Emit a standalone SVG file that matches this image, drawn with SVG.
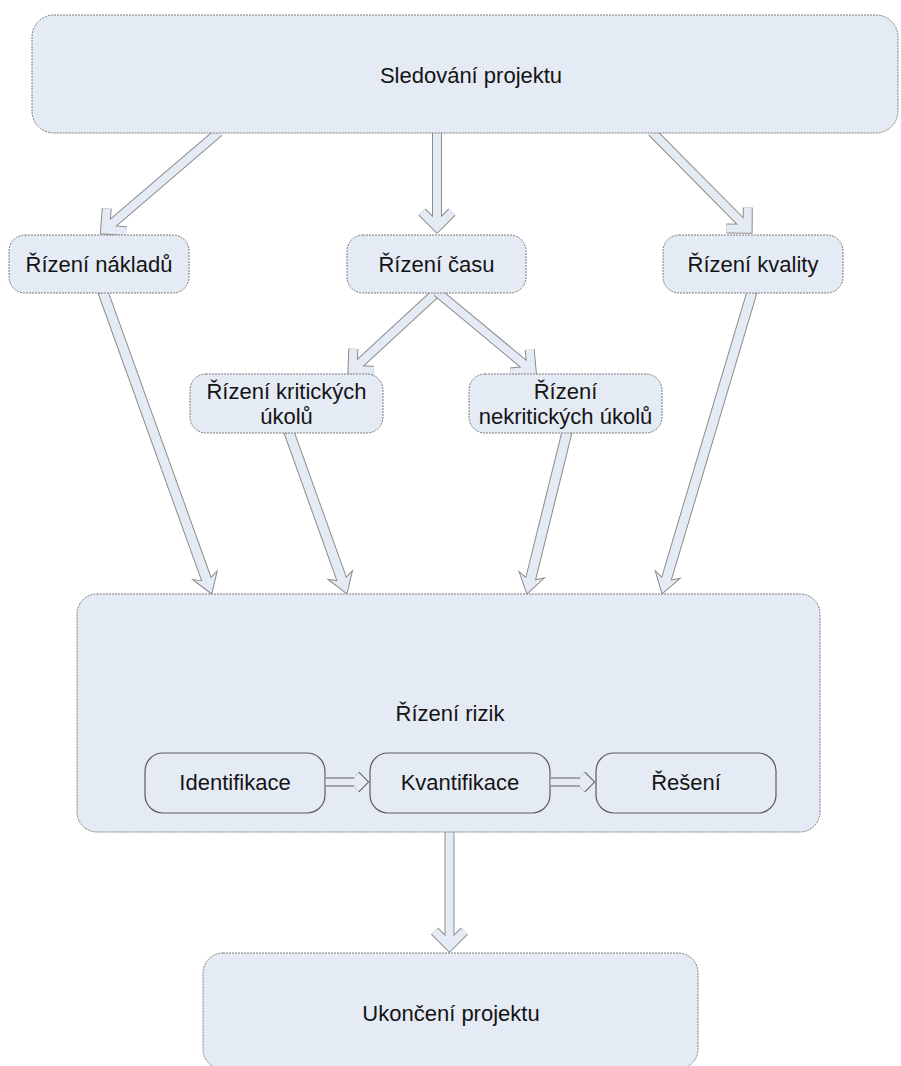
<svg xmlns="http://www.w3.org/2000/svg" width="901" height="1066" viewBox="0 0 901 1066">
  <style>
    .node { fill:#e5ebf5; stroke:#7d7d7d; stroke-width:1; stroke-dasharray:2 1; }
    .step { fill:#e5ebf5; stroke:#5c5c5c; stroke-width:1.2; }
    .lbl { font-family:"Liberation Sans", Arial, sans-serif; font-size:22px; fill:#141414; text-anchor:middle; }
    .ao { fill:none; stroke:#8c8c8c; stroke-width:10; stroke-linejoin:miter; }
    .ai { fill:none; stroke:#e5ebf5; stroke-width:8; stroke-linejoin:miter; }
    .so { fill:none; stroke:#5c5c5c; stroke-width:9; stroke-linejoin:miter; }
    .si { fill:none; stroke:#e5ebf5; stroke-width:7; stroke-linejoin:miter; }
    .blk { fill:#e5ebf5; stroke:#8c8c8c; stroke-width:1; stroke-linejoin:miter; }
  </style>
  <rect width="901" height="1066" fill="#ffffff"/>

  <g id="connectors">
    <!-- open-head block arrows -->
    <g transform="translate(219,132) rotate(139.4)">
      <path class="ao" d="M0,0H150M135,-15L150,0L135,15"/>
      <path class="ai" d="M0,0H150M135,-15L150,0L135,15"/>
    </g>
    <g transform="translate(437,132) rotate(90)">
      <path class="ao" d="M0,0H95M80,-15L95,0L80,15"/>
      <path class="ai" d="M0,0H95M80,-15L95,0L80,15"/>
    </g>
    <g transform="translate(652,132) rotate(45.3)">
      <path class="ao" d="M0,0H136M121,-15L136,0L121,15"/>
      <path class="ai" d="M0,0H136M121,-15L136,0L121,15"/>
    </g>
    <g transform="translate(437,292) rotate(137.3)">
      <path class="ao" d="M0,0H115M100,-15L115,0L100,15"/>
      <path class="ai" d="M0,0H115M100,-15L115,0L100,15"/>
    </g>
    <g transform="translate(437,292) rotate(39.7)">
      <path class="ao" d="M0,0H123M108,-15L123,0L108,15"/>
      <path class="ai" d="M0,0H123M108,-15L123,0L108,15"/>
    </g>
    <g transform="translate(449.5,831) rotate(90)">
      <path class="ao" d="M0,0H115M100,-15L115,0L100,15"/>
      <path class="ai" d="M0,0H115M100,-15L115,0L100,15"/>
    </g>

    <!-- solid-head block arrows into risk management -->
    <polygon class="blk" transform="translate(103,292) rotate(70.2)" points="0,-5 305,-5 301,-13 321,0 301,13 305,5 0,5"/>
    <polygon class="blk" transform="translate(289,432) rotate(70.3)" points="0,-5 156,-5 152,-13 172,0 152,13 156,5 0,5"/>
    <polygon class="blk" transform="translate(567,432) rotate(103.9)" points="0,-5 151,-5 147,-13 167,0 147,13 151,5 0,5"/>
    <polygon class="blk" transform="translate(752,292) rotate(106.6)" points="0,-5 299,-5 295,-13 315,0 295,13 299,5 0,5"/>
  </g>

  <g id="n-sledovani">
    <rect class="node" x="32" y="15" width="866" height="118" rx="22"/>
    <text class="lbl" x="471" y="83">Sledování projektu</text>
  </g>
  <g id="n-naklady">
    <rect class="node" x="9" y="235" width="180" height="58" rx="16"/>
    <text class="lbl" x="99" y="272">Řízení nákladů</text>
  </g>
  <g id="n-cas">
    <rect class="node" x="347" y="235" width="179" height="58" rx="16"/>
    <text class="lbl" x="436.5" y="272">Řízení času</text>
  </g>
  <g id="n-kvalita">
    <rect class="node" x="663" y="235" width="180" height="58" rx="16"/>
    <text class="lbl" x="753" y="272">Řízení kvality</text>
  </g>
  <g id="n-kriticke">
    <rect class="node" x="190" y="374" width="193" height="59" rx="16"/>
    <text class="lbl" x="286.5" y="399">Řízení kritických</text>
    <text class="lbl" x="286.5" y="424">úkolů</text>
  </g>
  <g id="n-nekriticke">
    <rect class="node" x="469" y="374" width="193" height="59" rx="16"/>
    <text class="lbl" x="565.5" y="399">Řízení</text>
    <text class="lbl" x="565.5" y="424">nekritických úkolů</text>
  </g>
  <g id="n-rizika">
    <rect class="node" x="77" y="594" width="743" height="238" rx="20"/>
    <text class="lbl" x="450" y="721">Řízení rizik</text>
  </g>
  <g id="n-identifikace">
    <rect class="step" x="145" y="753" width="180" height="60" rx="18"/>
    <text class="lbl" x="235" y="790">Identifikace</text>
  </g>
  <g id="n-kvantifikace">
    <rect class="step" x="370" y="753" width="180" height="60" rx="18"/>
    <text class="lbl" x="460" y="790">Kvantifikace</text>
  </g>
  <g id="n-reseni">
    <rect class="step" x="596" y="753" width="180" height="60" rx="18"/>
    <text class="lbl" x="686" y="790">Řešení</text>
  </g>
  <g id="n-ukonceni">
    <rect class="node" x="203" y="953" width="495" height="116" rx="20"/>
    <text class="lbl" x="451" y="1021">Ukončení projektu</text>
  </g>

  <g id="step-connectors">
    <path class="so" d="M325.5,782H363M356,775L363,782L356,789"/>
    <path class="si" d="M325.5,782H363M356,775L363,782L356,789"/>
    <path class="so" d="M550.5,782H589M582,775L589,782L582,789"/>
    <path class="si" d="M550.5,782H589M582,775L589,782L582,789"/>
  </g>
</svg>
